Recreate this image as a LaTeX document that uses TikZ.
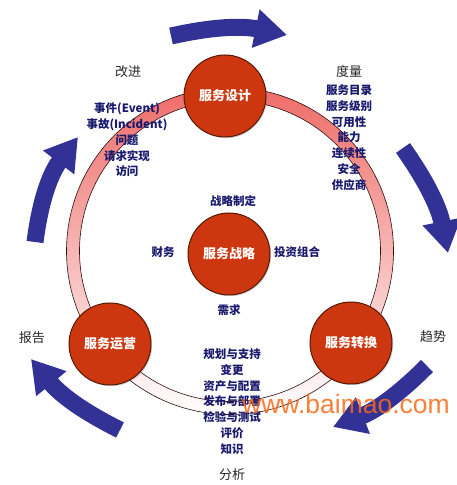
\documentclass[tikz,border=0pt]{standalone}
\usepackage{fontspec}
\setmainfont{Noto Sans CJK SC}
\newfontfamily\wmfont{Liberation Sans}
\usetikzlibrary{arrows.meta,shadows}

\definecolor{phaseRed}{RGB}{205,55,15}
\definecolor{phaseEdge}{RGB}{85,25,5}
\definecolor{itemBlue}{RGB}{25,25,110}
\definecolor{flowBlue}{RGB}{50,50,150}
\definecolor{ringRed}{RGB}{238,108,104}
\definecolor{ringEdge}{RGB}{45,15,15}
\definecolor{markOrange}{RGB}{250,105,20}

\tikzset{
  phase/.style={circle, fill=phaseRed, draw=phaseEdge, line width=1pt, minimum size=82pt, inner sep=0pt,
    text=white, font=\bfseries\fontsize{13}{15}\selectfont,
    drop shadow={opacity=0.35, shadow xshift=1.2pt, shadow yshift=-1.2pt}},
  item/.style={text=itemBlue, font=\bfseries\fontsize{11.5}{15.8}\selectfont, align=center},
  side/.style={text=black!85, font=\fontsize{13}{15}\selectfont},
  flow/.style={flowBlue, line width=17pt, -{Triangle[length=32pt,width=37pt]}, bend left=12}
}

\begin{document}
\begin{tikzpicture}[x=1pt, y=1pt]
	\useasboundingbox (0,0) rectangle (457,485);
	\coordinate (O) at (230,234);

	% ring
	\shade[top color=ringRed, bottom color=white, even odd rule] (O) circle[radius=163.5pt] (O) circle[radius=150.5pt];
	\draw[ringEdge, line width=0.6pt] (O) circle[radius=163.5pt] (O) circle[radius=150.5pt];

	% blue flow arrows
	\coordinate (topS) at (171,449);   \coordinate (topT) at (287,450);
	\coordinate (rgtS) at (403,337);   \coordinate (rgtT) at (448,232);
	\coordinate (brS) at (427,119);    \coordinate (brT) at (333,58);
	\coordinate (blS) at (120,55);     \coordinate (blT) at (31,126);
	\coordinate (lftS) at (35,243);    \coordinate (lftT) at (78,348);
	\draw[flow] (topS) to (topT);
	\draw[flow] (rgtS) to (rgtT);
	\draw[flow] (brS) to (brT);
	\draw[flow] (blS) to (blT);
	\draw[flow, bend left=15] (lftS) to (lftT);

	% phases
	\node[phase] (design) at (225,389) {服务设计};
	\node[phase] (operation) at (110,141) {服务运营};
	\node[phase] (transition) at (351,142) {服务转换};
	\node[phase] (strategy) at (229,231) {服务战略};

	% strategy items
	\node[item] (plan) at (233,284) {战略制定};
	\node[item] (finance) at (163,233) {财务};
	\node[item] (portfolio) at (297,233) {投资组合};
	\node[item] (demand) at (229,175) {需求};

	% item lists
	\node[item] (improveList) at (127,345) {事件(Event)\\事故(Incident)\\问题\\请求实现\\访问};
	\node[item] (measureList) at (349,347.5) {服务目录\\服务级别\\可用性\\能力\\连续性\\安全\\供应商};
	\node[item] (analyseList) at (232,83.5) {规划与支持\\变更\\资产与配置\\发布与部署\\检验与测试\\评价\\知识};

	% side labels
	\node[side] (improve) at (128,413) {改进};
	\node[side] (measure) at (349,413) {度量};
	\node[side] (trend) at (433,148) {趋势};
	\node[side] (analyse) at (232,10) {分析};
	\node[side] (report) at (32,147) {报告};

	\node[anchor=base, text=markOrange, text opacity=0.85, font=\wmfont\fontsize{26.5}{30}\selectfont] (mark) at (346,71) {www.baimao.com};
\end{tikzpicture}
\end{document}
